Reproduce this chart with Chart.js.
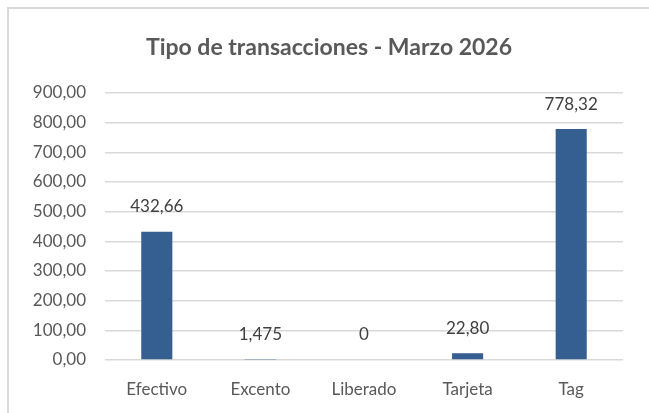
<!DOCTYPE html>
<html>
<head>
<meta charset="utf-8">
<script src="https://cdn.jsdelivr.net/npm/chart.js@4.4.1/dist/chart.umd.min.js"></script>
<style>
  html, body { margin: 0; padding: 0; background: #fff; }
  #wrap { position: relative; width: 649px; height: 413px; }
  #frame { position: absolute; left: 7px; top: 7px; right: 0; bottom: 0;
           border-left: 2px solid #d9d9d9; border-top: 2px solid #d9d9d9; }
  canvas { position: absolute; left: 0; top: 0; }
</style>
</head>
<body>
<div id="wrap">
  <div id="frame"></div>
  <canvas id="myChart" width="649" height="413"></canvas>
</div>
<script>
// datos del grafico
const categorias = ['Efectivo', 'Excento', 'Liberado', 'Tarjeta', 'Tag'];
const valores = [432.66, 1.475, 0, 22.80, 778.32];
const etiquetas = ['432,66', '1,475', '0', '22,80', '778,32'];
const ticksY = ['0,00', '100,00', '200,00', '300,00', '400,00', '500,00', '600,00', '700,00', '800,00', '900,00'];
const titulo = 'Tipo de transacciones - Marzo 2026';

const fuente = 'Lato, "Open Sans", sans-serif';

// titulo y etiquetas encima de cada barra
const etiquetasBarras = {
  id: 'etiquetasBarras',
  afterDatasetsDraw(chart) {
    const ctx = chart.ctx;
    const meta = chart.getDatasetMeta(0);
    ctx.save();
    ctx.textAlign = 'center';
    ctx.textBaseline = 'middle';
    ctx.font = 'bold 23px ' + fuente;
    ctx.fillStyle = '#595959';
    ctx.fillText(titulo, 329, 48);
    ctx.font = '17px ' + fuente;
    ctx.fillStyle = '#404040';
    meta.data.forEach((bar, i) => {
      ctx.fillText(etiquetas[i], bar.x, bar.y - 25);
    });
    ctx.restore();
  }
};

const ctx = document.getElementById('myChart');
new Chart(ctx, {
  type: 'bar',
  data: {
    labels: categorias,
    datasets: [{
      data: valores,
      backgroundColor: '#355e91',
      borderWidth: 0,
      barPercentage: 0.3,
      categoryPercentage: 1
    }]
  },
  options: {
    responsive: false,
    animation: false,
    layout: { padding: { left: 0, right: 26, top: 93, bottom: 0 } },
    plugins: {
      legend: { display: false },
      tooltip: { enabled: false },
      title: { display: false }
    },
    scales: {
      x: {
        grid: { display: false },
        border: { display: false },
        ticks: {
          color: '#595959',
          font: { family: fuente, size: 17 },
          padding: 11
        },
        afterFit(scale) { scale.height = 53; }
      },
      y: {
        min: 0,
        max: 900,
        ticks: {
          stepSize: 100,
          color: '#595959',
          font: { family: fuente, size: 17 },
          padding: 19,
          callback: (v, i) => ticksY[i]
        },
        grid: { color: '#d9d9d9', lineWidth: 1.5, drawTicks: false },
        border: { display: false },
        afterFit(scale) { scale.width = 105; }
      }
    }
  },
  plugins: [etiquetasBarras]
});
</script>
</body>
</html>
